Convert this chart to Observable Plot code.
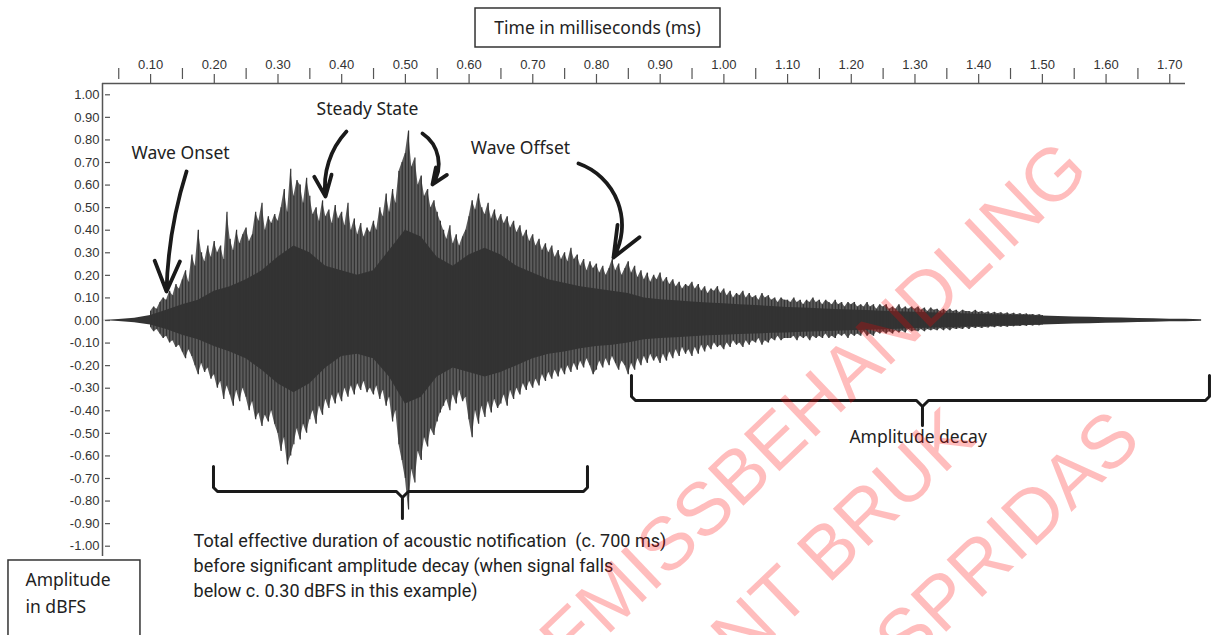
<!DOCTYPE html>
<html><head><meta charset="utf-8">
<script src="https://cdn.jsdelivr.net/npm/d3@7"></script>
<script src="https://cdn.jsdelivr.net/npm/@observablehq/plot@0.6"></script>
<style>html,body{margin:0;padding:0;background:#fff;overflow:hidden}</style>
</head><body><div id="chart"></div>
<script>
// ---- axis ticks ----
const majorTicks = [0.1,0.2,0.3,0.4,0.5,0.6,0.7,0.8,0.9,1.0,1.1,1.2,1.3,1.4,1.5,1.6,1.7];
const minorTicks = [0.05,0.15,0.25,0.35,0.45,0.55,0.65,0.75,0.85,0.95,1.05,1.15,1.25,1.35,1.45,1.55,1.65];
const yTicks = [1.0,0.9,0.8,0.7,0.6,0.5,0.4,0.3,0.2,0.1,0.0,-0.1,-0.2,-0.3,-0.4,-0.5,-0.6,-0.7,-0.8,-0.9,-1.0];

// ---- waveform: dense core envelope (sampled every 0.025 ms from 0.025) ----
const coreStart = 0.025, coreStep = 0.025;
const coreTop = [0.000,0.004,0.010,0.022,0.045,0.07,0.09,0.13,0.15,0.18,
  0.22,0.28,0.33,0.30,0.24,0.22,0.20,0.22,0.31,0.40,
  0.37,0.28,0.24,0.29,0.32,0.29,0.24,0.21,0.18,0.165,
  0.15,0.14,0.13,0.12,0.10,0.092,0.087,0.082,0.078,0.074,
  0.07,0.066,0.062,0.058,0.055,0.052,0.049,0.046,0.044,0.041,
  0.039,0.036,0.034,0.032,0.03,0.028,0.026,0.024,0.022,0.02,
  0.018,0.016,0.014,0.012,0.011,0.009,0.008,0.006,0.005,0.003];
const coreBottom = [0.000,-0.004,-0.010,-0.020,-0.040,-0.065,-0.085,-0.115,-0.14,-0.17,
  -0.22,-0.28,-0.32,-0.28,-0.21,-0.16,-0.15,-0.17,-0.25,-0.37,
  -0.34,-0.25,-0.21,-0.23,-0.25,-0.23,-0.20,-0.17,-0.15,-0.14,
  -0.125,-0.115,-0.11,-0.10,-0.085,-0.08,-0.076,-0.072,-0.068,-0.065,
  -0.062,-0.06,-0.057,-0.055,-0.052,-0.05,-0.048,-0.045,-0.043,-0.041,
  -0.039,-0.036,-0.034,-0.032,-0.03,-0.028,-0.026,-0.024,-0.022,-0.02,
  -0.018,-0.016,-0.014,-0.012,-0.011,-0.009,-0.008,-0.006,-0.005,-0.003];

// ---- waveform: peak spikes (sampled every 0.005 ms from 0.100) ----
const spikeStart = 0.100, spikeStep = 0.005;
const spikeTop = [
  0.04,0.06,0.05,0.08,0.10,0.09,0.13,0.11,0.16,0.14,
  0.18,0.22,0.17,0.29,0.24,0.40,0.30,0.26,0.33,0.28,
  0.35,0.30,0.33,0.27,0.48,0.36,0.31,0.40,0.34,0.38,
  0.41,0.35,0.38,0.48,0.44,0.52,0.40,0.46,0.43,0.47,
  0.44,0.50,0.58,0.48,0.67,0.55,0.62,0.60,0.52,0.63,
  0.55,0.47,0.50,0.44,0.53,0.46,0.49,0.43,0.51,0.45,
  0.48,0.42,0.52,0.40,0.45,0.38,0.43,0.37,0.41,0.39,
  0.44,0.40,0.50,0.46,0.56,0.48,0.58,0.52,0.66,0.70,
  0.74,0.84,0.68,0.72,0.60,0.64,0.55,0.58,0.50,0.53,
  0.48,0.44,0.40,0.36,0.42,0.34,0.38,0.33,0.37,0.40,
  0.46,0.53,0.49,0.56,0.50,0.47,0.52,0.45,0.49,0.44,
  0.47,0.43,0.46,0.41,0.44,0.39,0.42,0.37,0.40,0.35,
  0.38,0.33,0.36,0.31,0.34,0.30,0.33,0.28,0.31,0.27,
  0.30,0.26,0.32,0.27,0.29,0.24,0.27,0.22,0.26,0.23,
  0.25,0.21,0.24,0.20,0.23,0.27,0.22,0.25,0.20,0.23,
  0.26,0.21,0.24,0.19,0.22,0.18,0.21,0.17,0.20,0.18,
  0.21,0.17,0.19,0.16,0.18,0.15,0.17,0.14,0.16,0.15,
  0.17,0.14,0.16,0.13,0.15,0.12,0.14,0.13,0.15,0.12,
  0.14,0.11,0.13,0.10,0.12,0.11,0.13,0.10,0.12,0.10,
  0.11,0.09,0.12,0.10,0.11,0.09,0.10,0.08,0.10,0.09,
  0.09,
  0.08,0.10,0.08,0.09,0.07,0.09,0.08,0.10,0.08,0.09,
  0.07,0.09,0.08,0.07,0.09,0.07,0.08,0.06,0.08,0.07,
  0.08,0.06,0.07,0.06,0.08,0.06,0.07,0.05,0.07,0.06,
  0.07,0.05,0.06,0.05,0.07,0.05,0.06,0.05,0.06,0.05,
  0.06,0.045,0.055,0.04,0.055,0.045,0.05,0.04,0.05,0.04,
  0.05,0.04,0.045,0.035,0.045,0.04,0.04,0.035,0.045,0.035,
  0.04,0.032,0.038,0.03,0.036,0.03,0.034,0.028,0.033,0.027,
  0.032,0.026,0.03,0.025,0.029,0.024,0.027,0.022,0.026,0.022];
const spikeBottom = [
  -0.03,-0.05,-0.04,-0.06,-0.08,-0.07,-0.10,-0.09,-0.12,-0.11,
  -0.14,-0.17,-0.13,-0.16,-0.20,-0.24,-0.19,-0.23,-0.21,-0.26,
  -0.24,-0.30,-0.27,-0.35,-0.29,-0.33,-0.38,-0.31,-0.36,-0.30,
  -0.34,-0.40,-0.36,-0.44,-0.41,-0.47,-0.42,-0.45,-0.40,-0.46,
  -0.50,-0.58,-0.52,-0.64,-0.60,-0.55,-0.48,-0.53,-0.46,-0.50,
  -0.44,-0.40,-0.46,-0.38,-0.42,-0.35,-0.39,-0.33,-0.37,-0.32,
  -0.36,-0.30,-0.34,-0.29,-0.33,-0.28,-0.31,-0.27,-0.32,-0.30,
  -0.33,-0.29,-0.35,-0.31,-0.38,-0.34,-0.45,-0.40,-0.55,-0.62,
  -0.70,-0.84,-0.66,-0.72,-0.58,-0.62,-0.52,-0.56,-0.48,-0.51,
  -0.45,-0.41,-0.38,-0.35,-0.40,-0.33,-0.37,-0.31,-0.36,-0.34,
  -0.44,-0.52,-0.40,-0.46,-0.38,-0.43,-0.36,-0.41,-0.35,-0.39,
  -0.37,-0.33,-0.38,-0.31,-0.35,-0.30,-0.33,-0.28,-0.31,-0.27,
  -0.30,-0.26,-0.29,-0.24,-0.27,-0.23,-0.26,-0.22,-0.25,-0.21,
  -0.24,-0.20,-0.23,-0.19,-0.22,-0.18,-0.21,-0.17,-0.20,-0.24,
  -0.22,-0.18,-0.21,-0.17,-0.20,-0.16,-0.19,-0.22,-0.18,-0.20,
  -0.24,-0.19,-0.22,-0.17,-0.20,-0.16,-0.19,-0.15,-0.18,-0.16,
  -0.19,-0.15,-0.18,-0.14,-0.17,-0.13,-0.16,-0.12,-0.15,-0.13,
  -0.16,-0.12,-0.15,-0.11,-0.14,-0.11,-0.13,-0.10,-0.12,-0.11,
  -0.13,-0.10,-0.12,-0.09,-0.11,-0.10,-0.12,-0.09,-0.11,-0.09,
  -0.10,-0.08,-0.11,-0.09,-0.10,-0.08,-0.09,-0.07,-0.09,-0.08,
  -0.08,
  -0.08,-0.07,-0.09,-0.07,-0.08,-0.07,-0.09,-0.07,-0.08,-0.07,
  -0.08,-0.06,-0.08,-0.07,-0.08,-0.06,-0.07,-0.06,-0.08,-0.06,
  -0.07,-0.06,-0.07,-0.05,-0.07,-0.06,-0.07,-0.05,-0.06,-0.05,
  -0.06,-0.05,-0.06,-0.045,-0.055,-0.045,-0.055,-0.04,-0.05,-0.045,
  -0.05,-0.04,-0.05,-0.04,-0.045,-0.04,-0.045,-0.035,-0.045,-0.035,
  -0.045,-0.035,-0.04,-0.035,-0.04,-0.03,-0.04,-0.03,-0.035,-0.03,
  -0.035,-0.03,-0.033,-0.028,-0.032,-0.027,-0.03,-0.025,-0.03,-0.025,
  -0.028,-0.024,-0.027,-0.022,-0.026,-0.021,-0.024,-0.02,-0.023,-0.02];

// ---- annotations (data units: ms, amplitude) ----
const phaseLabels = ["Wave Onset", "Steady State", "Wave Offset"];
const phaseT = [0.147, 0.4405, 0.6807];
const phaseA = [0.740, 0.935, 0.762];
const arrowT1 = [0.1564, 0.4075, 0.5268, 0.7718];
const arrowA1 = [0.660, 0.837, 0.8285, 0.6956];
const arrowT2 = [0.125, 0.3746, 0.5425, 0.8267];
const arrowA2 = [0.1285, 0.549, 0.6026, 0.2791];
const arrowBend = [-8, -25, 45, 50];
const brace1T = [0.19874,0.19874,0.20502,0.48595,0.49537,0.49537,0.49537,0.50479,0.77959,0.78587,0.78587];
const brace1A = [-0.6469,-0.7399,-0.7576,-0.7576,-0.7842,-0.8773,-0.7842,-0.7576,-0.7576,-0.7399,-0.6469];
const brace2T = [0.85495,0.85495,0.86123,1.30235,1.31177,1.31177,1.31177,1.32119,1.75604,1.76232,1.76232];
const brace2A = [-0.2437,-0.3367,-0.3545,-0.3545,-0.3810,-0.4652,-0.3810,-0.3545,-0.3545,-0.3367,-0.2437];
const decayLabel = "Amplitude decay";
const decayT = 1.305, decayA = -0.518;
const captionLines = ["Total effective duration of acoustic notification  (c. 700 ms)",
  "before significant amplitude decay (when signal falls",
  "below c. 0.30 dBFS in this example)"];
const captionT = 0.1674;
const captionA = [-0.9792, -1.0900, -1.2007];
const xTitle = "Time in milliseconds (ms)";
const xTitleBox = {x1: 0.6101, x2: 0.9947, y1: 1.2095, y2: 1.3823, tx: 0.8016, ty: 1.2937};
const yTitleLines = ["Amplitude", "in dBFS"];
const yTitleBox = {x1: -0.1231, x2: 0.0841, y1: -1.4044, y2: -1.0633, tx: -0.0964};
const yTitleA = [-1.152, -1.2716];
const watermarkLines = ["EMISSBEHANDLING", "NT BRUK", "SPRIDAS"];
const watermarkT = [1.5510, 1.3738, 1.6328];
const watermarkA = [0.7300, -0.4568, -0.4657];

// ---- build tables ----
const core = coreTop.map((hi, i) => ({t: coreStart + i * coreStep, hi, lo: coreBottom[i]}));
const spikes = spikeTop.map((hi, i) => ({t: spikeStart + i * spikeStep, hi, lo: spikeBottom[i]}));
const phases = phaseLabels.map((text, i) => ({text, t: phaseT[i], a: phaseA[i]}));
const arrows = arrowT1.map((t1, i) => ({t1, a1: arrowA1[i], t2: arrowT2[i], a2: arrowA2[i], bend: arrowBend[i]}));
const braces = [
  ...brace1T.map((t, i) => ({g: 1, t, a: brace1A[i]})),
  ...brace2T.map((t, i) => ({g: 2, t, a: brace2A[i]}))
];
const captions = captionLines.map((text, i) => ({text, t: captionT, a: captionA[i]}));
const yTitles = yTitleLines.map((text, i) => ({text, t: yTitleBox.tx, a: yTitleA[i]}));
const watermarks = watermarkLines.map((text, i) => ({text, t: watermarkT[i], a: watermarkA[i]}));

const xDomain = [0.0245, 1.7247];
const yDomain = [-1.0456, 1.05];
const ink = "#333333";
const uiFont = "'Noto Sans', 'Open Sans', sans-serif";

const chart = Plot.plot({
  width: 1211, height: 635,
  marginLeft: 102, marginRight: 26, marginTop: 83, marginBottom: 79,
  x: {domain: xDomain},
  y: {domain: yDomain},
  style: {fontFamily: "'Liberation Sans', Arial, sans-serif", fontSize: "13px", color: ink, background: "#fff", overflow: "hidden"},
  marks: [
    // waveform
    Plot.areaY(spikes, {x: "t", y1: "lo", y2: "hi", fill: ink, fillOpacity: 0.8, curve: "linear"}),
    Plot.areaY(core, {x: "t", y1: "lo", y2: "hi", fill: ink, curve: "linear"}),
    Plot.ruleX(spikes, {x: "t", y1: "lo", y2: "hi", stroke: ink, strokeWidth: 1.2}),
    // axes
    Plot.ruleY([yDomain[1]], {stroke: "#555", strokeWidth: 1.5}),
    Plot.ruleX([xDomain[0]], {stroke: "#555", strokeWidth: 1.5}),
    Plot.axisX({anchor: "top", ticks: majorTicks, tickSize: 10, tickPadding: 5, tickFormat: d => d.toFixed(2), label: null, stroke: "#555", strokeWidth: 1.2}),
    Plot.ruleX(minorTicks, {y1: 1.0677, y2: 1.1165, stroke: "#555", strokeWidth: 1.2}),
    Plot.axisY({anchor: "left", ticks: yTicks, tickSize: 0, tickPadding: 3, tickFormat: d => d.toFixed(2), label: null}),
    Plot.ruleY(yTicks, {x1: 0.0292, x2: 0.0371, stroke: "#555", strokeWidth: 1.2}),
    // title boxes
    Plot.rect([xTitleBox], {x1: "x1", x2: "x2", y1: "y1", y2: "y2", fill: "white", stroke: ink, strokeWidth: 1.5}),
    Plot.text([xTitleBox], {x: "tx", y: "ty", text: () => xTitle, fontSize: 17.5, fontFamily: uiFont, fill: "#222"}),
    Plot.rect([yTitleBox], {x1: "x1", x2: "x2", y1: "y1", y2: "y2", fill: "white", stroke: ink, strokeWidth: 1.5}),
    Plot.text(yTitles, {x: "t", y: "a", text: "text", textAnchor: "start", fontSize: 17.5, fontFamily: uiFont, fill: "#222"}),
    // phase annotations
    Plot.text(phases, {x: "t", y: "a", text: "text", fontSize: 17.5, fontFamily: uiFont, fill: "#222"}),
    ...arrows.map(d => Plot.arrow([d], {x1: "t1", y1: "a1", x2: "t2", y2: "a2", bend: d.bend, stroke: "#1a1a1a", strokeWidth: 3.8, headLength: 13, headAngle: 45})),
    // braces
    Plot.line(braces, {x: "t", y: "a", z: "g", stroke: "#1a1a1a", strokeWidth: 3, strokeLinejoin: "round", strokeLinecap: "round"}),
    Plot.text([decayLabel], {x: decayT, y: decayA, text: d => d, fontSize: 17.5, fontFamily: uiFont, fill: "#222"}),
    Plot.text(captions, {x: "t", y: "a", text: "text", textAnchor: "start", fontSize: 18, fontFamily: "Roboto, sans-serif", fill: "#222"}),
    // watermark
    Plot.text(watermarks, {x: "t", y: "a", text: "text", textAnchor: "end", rotate: -43.7, fontSize: 75, fontFamily: "'Liberation Sans', Arial, sans-serif", fill: "#ff0000", fillOpacity: 0.26})
  ]
});
document.getElementById("chart").appendChild(chart);
</script>
</body></html>
